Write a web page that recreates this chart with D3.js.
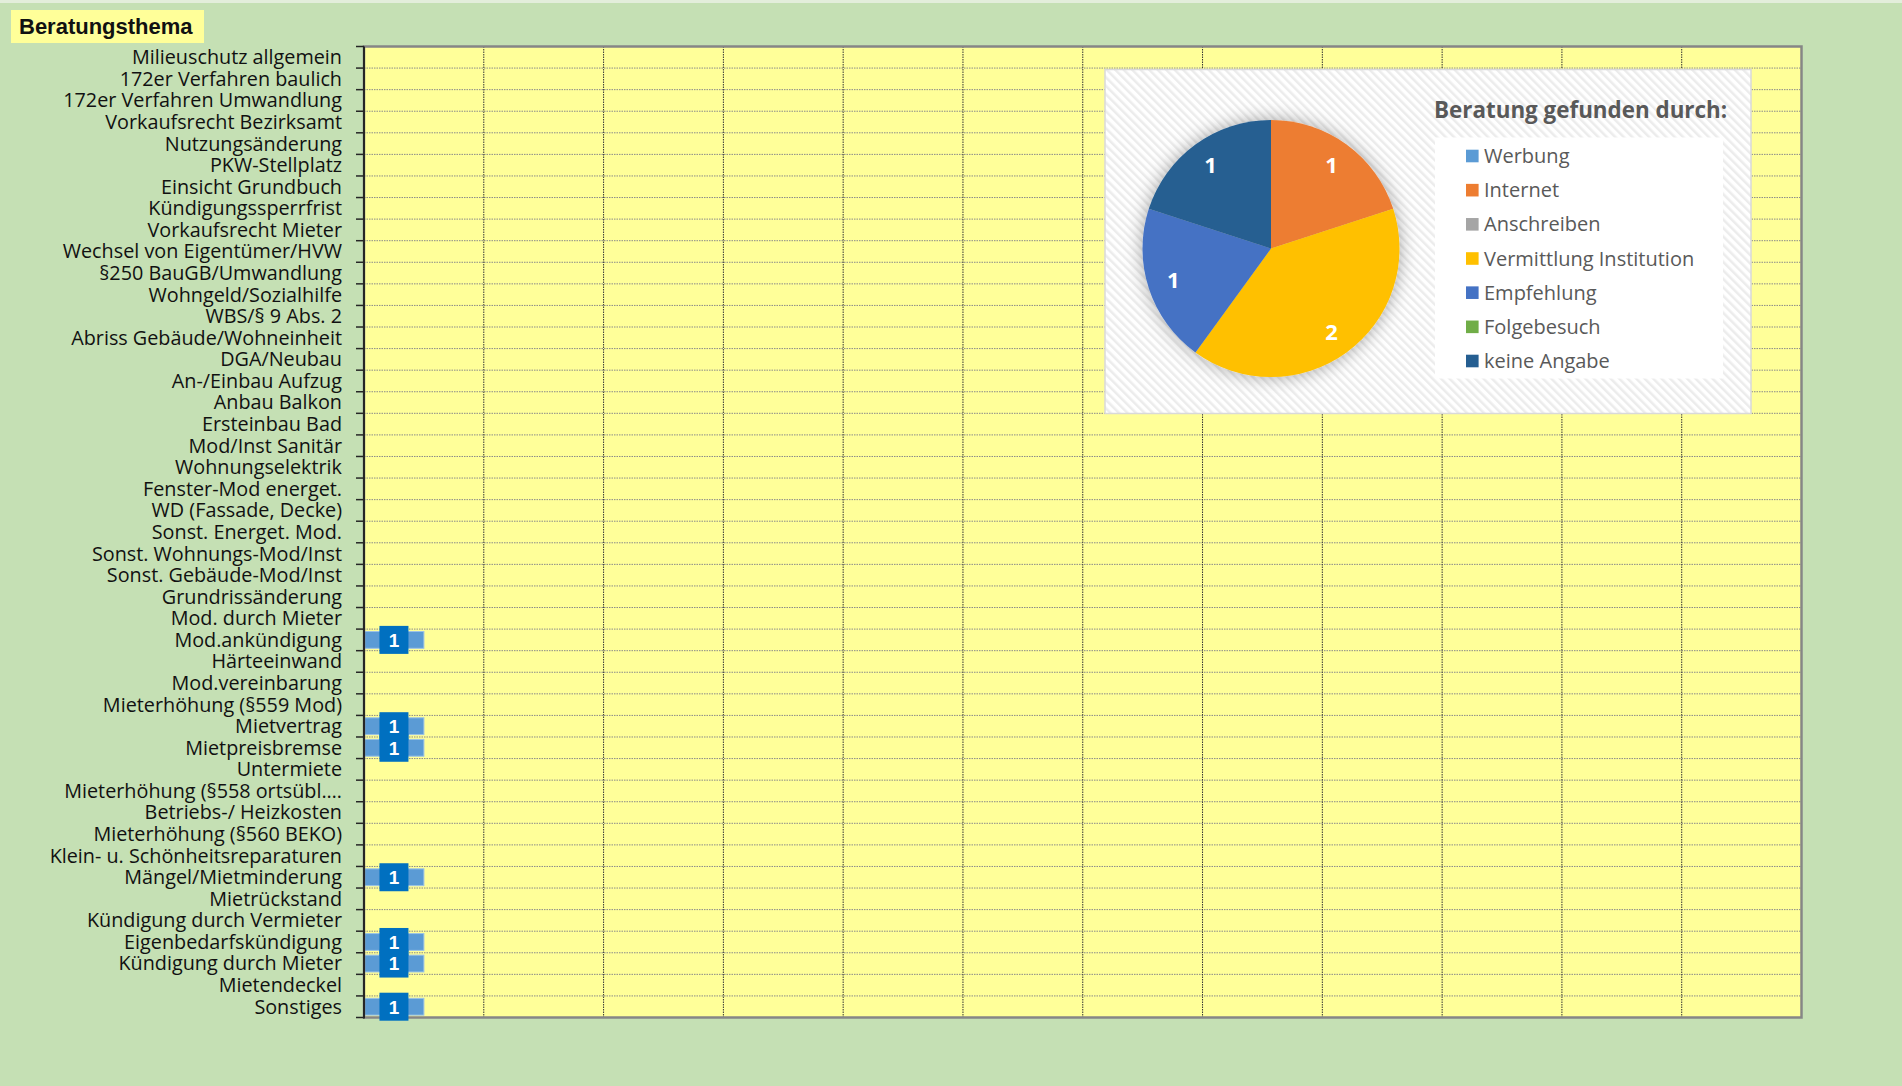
<!DOCTYPE html>
<html>
<head>
<meta charset="utf-8">
<script src="https://cdn.jsdelivr.net/npm/d3@7"></script>
<style>
  html, body { margin: 0; padding: 0; background: #C5E0B4; }
  svg { display: block; }
</style>
</head>
<body>
<div id="chart"></div>
<script>
// Beratungsthemen (bar chart) + "Beratung gefunden durch" (pie)

var categories = [
  "Milieuschutz allgemein", "172er Verfahren baulich", "172er Verfahren Umwandlung",
  "Vorkaufsrecht Bezirksamt", "Nutzungsänderung", "PKW-Stellplatz", "Einsicht Grundbuch",
  "Kündigungssperrfrist", "Vorkaufsrecht Mieter", "Wechsel von Eigentümer/HVW",
  "§250 BauGB/Umwandlung", "Wohngeld/Sozialhilfe", "WBS/§ 9 Abs. 2",
  "Abriss Gebäude/Wohneinheit", "DGA/Neubau", "An-/Einbau Aufzug", "Anbau Balkon",
  "Ersteinbau Bad", "Mod/Inst Sanitär", "Wohnungselektrik", "Fenster-Mod energet.",
  "WD (Fassade, Decke)", "Sonst. Energet. Mod.", "Sonst. Wohnungs-Mod/Inst",
  "Sonst. Gebäude-Mod/Inst", "Grundrissänderung", "Mod. durch Mieter", "Mod.ankündigung",
  "Härteeinwand", "Mod.vereinbarung", "Mieterhöhung (§559 Mod)", "Mietvertrag",
  "Mietpreisbremse", "Untermiete", "Mieterhöhung (§558 ortsübl.…", "Betriebs-/ Heizkosten",
  "Mieterhöhung (§560 BEKO)", "Klein- u. Schönheitsreparaturen", "Mängel/Mietminderung",
  "Mietrückstand", "Kündigung durch Vermieter", "Eigenbedarfskündigung",
  "Kündigung durch Mieter", "Mietendeckel", "Sonstiges"
];
var counts = [
  0, 0, 0, 0, 0, 0, 0, 0, 0, 0,
  0, 0, 0, 0, 0, 0, 0, 0, 0, 0,
  0, 0, 0, 0, 0, 0, 0, 1, 0, 0,
  0, 1, 1, 0, 0, 0, 0, 0, 1, 0,
  0, 1, 1, 0, 1
];
var xTickValues = [0, 2, 4, 6, 8, 10, 12, 14, 16, 18, 20, 22, 24];

var sources = ["Werbung", "Internet", "Anschreiben", "Vermittlung Institution",
               "Empfehlung", "Folgebesuch", "keine Angabe"];
var sourceCounts = [0, 1, 0, 2, 1, 0, 1];
var sourceColors = ["#5B9BD5", "#ED7D31", "#A5A5A5", "#FFC000", "#4472C4", "#70AD47", "#255E91"];

var W = 1902, H = 1086;
var svg = d3.select("#chart").append("svg")
    .attr("width", W)
    .attr("height", H);

var defs = svg.append("defs");
var pat = defs.append("pattern")
    .attr("id", "stripes")
    .attr("width", 6).attr("height", 6)
    .attr("patternUnits", "userSpaceOnUse")
    .attr("patternTransform", "rotate(-45)");
pat.append("rect").attr("width", 6).attr("height", 6).attr("fill", "#ffffff");
pat.append("rect").attr("width", 2.5).attr("height", 6).attr("fill", "#ececec");

var shadow = defs.append("filter").attr("id", "pieShadow")
    .attr("x", "-30%").attr("y", "-30%").attr("width", "160%").attr("height", "160%");
shadow.append("feDropShadow")
    .attr("dx", 0).attr("dy", 0).attr("stdDeviation", 9)
    .attr("flood-color", "#000").attr("flood-opacity", 0.35);

// top strip
svg.append("rect").attr("width", W).attr("height", 3).attr("fill", "#E3EEDB");

// title
svg.append("rect")
    .attr("x", 11).attr("y", 10).attr("width", 193).attr("height", 33)
    .attr("fill", "#FFFF99");
svg.append("text")
    .attr("x", 19).attr("y", 34)
    .attr("font-family", "Liberation Sans, Arial, sans-serif")
    .attr("font-weight", "bold").attr("font-size", 22)
    .attr("fill", "#111")
    .text("Beratungsthema");

// ---- bar chart ----
var plot = {left: 364, top: 46.5, right: 1801.5, bottom: 1017.5};

var x = d3.scaleLinear()
    .domain([0, 24])
    .range([plot.left, plot.right]);

var y = d3.scaleBand()
    .domain(categories)
    .range([plot.top, plot.bottom])
    .padding(0);

var g = svg.append("g");

g.append("rect")
    .attr("x", plot.left).attr("y", plot.top)
    .attr("width", plot.right - plot.left).attr("height", plot.bottom - plot.top)
    .attr("fill", "#FFFF99");

// horizontal grid at row boundaries
var boundaries = categories.map(function(c){ return y(c); }).concat([plot.bottom]);
g.selectAll(".hgrid")
    .data(boundaries.slice(1, -1))
    .enter().append("line")
    .attr("class", "hgrid")
    .attr("x1", plot.left).attr("x2", plot.right)
    .attr("y1", function(d){ return d; }).attr("y2", function(d){ return d; })
    .attr("stroke", "#8a8a8a").attr("stroke-width", 1)
    .attr("stroke-dasharray", "1.5,1");

// vertical grid
g.selectAll(".vgrid")
    .data(xTickValues.slice(1, -1))
    .enter().append("line")
    .attr("class", "vgrid")
    .attr("x1", function(d){ return x(d); }).attr("x2", function(d){ return x(d); })
    .attr("y1", plot.top).attr("y2", plot.bottom)
    .attr("stroke", "#333").attr("stroke-width", 1)
    .attr("stroke-dasharray", "1.5,1");

// bars
var barPad = y.bandwidth() * 0.11;
var rows = categories.map(function(c, i){ return {cat: c, value: counts[i]}; });
g.selectAll(".bar")
    .data(rows.filter(function(d){ return d.value > 0; }))
    .enter().append("rect")
    .attr("class", "bar")
    .attr("x", x(0))
    .attr("y", function(d){ return y(d.cat) + barPad; })
    .attr("width", function(d){ return x(d.value) - x(0); })
    .attr("height", y.bandwidth() - 2 * barPad)
    .attr("fill", "#5B9BD5")
    .attr("stroke", "#9DC3E6").attr("stroke-width", 1);

// plot border
g.append("rect")
    .attr("x", plot.left).attr("y", plot.top)
    .attr("width", plot.right - plot.left).attr("height", plot.bottom - plot.top)
    .attr("fill", "none")
    .attr("stroke", "#868686").attr("stroke-width", 2.5);

// left axis line + boundary ticks
g.append("line")
    .attr("x1", plot.left).attr("x2", plot.left)
    .attr("y1", plot.top).attr("y2", plot.bottom + 1)
    .attr("stroke", "#262626").attr("stroke-width", 2);
g.selectAll(".ytick")
    .data(boundaries)
    .enter().append("line")
    .attr("class", "ytick")
    .attr("x1", plot.left - 8).attr("x2", plot.left)
    .attr("y1", function(d){ return d; }).attr("y2", function(d){ return d; })
    .attr("stroke", "#262626").attr("stroke-width", 1.5);

// category labels
g.selectAll(".ylab")
    .data(categories)
    .enter().append("text")
    .attr("class", "ylab")
    .attr("x", plot.left - 22)
    .attr("y", function(d){ return y(d) + y.bandwidth() / 2; })
    .attr("dy", "0.35em")
    .attr("text-anchor", "end")
    .attr("font-family", "Open Sans, sans-serif")
    .attr("font-size", 19.8)
    .attr("fill", "#111")
    .text(function(d){ return d; });

// data labels
var lab = g.selectAll(".dlab")
    .data(rows.filter(function(d){ return d.value > 0; }))
    .enter().append("g")
    .attr("class", "dlab")
    .attr("transform", function(d){
        return "translate(" + ((x(0) + x(d.value)) / 2) + "," + (y(d.cat) + y.bandwidth() / 2) + ")";
    });
lab.append("rect")
    .attr("x", -14.5).attr("y", -14)
    .attr("width", 29).attr("height", 28)
    .attr("fill", "#0070C0");
lab.append("text")
    .attr("dy", "0.36em")
    .attr("text-anchor", "middle")
    .attr("font-family", "Liberation Sans, Arial, sans-serif")
    .attr("font-weight", "bold").attr("font-size", 19)
    .attr("fill", "#fff")
    .text(function(d){ return d.value; });

// ---- pie panel ----
var panel = {x: 1105, y: 69.5, w: 646, h: 344};

svg.append("rect")
    .attr("x", panel.x).attr("y", panel.y)
    .attr("width", panel.w).attr("height", panel.h)
    .attr("fill", "url(#stripes)")
    .attr("stroke", "#d9d9d9").attr("stroke-width", 1.5);

var pie = d3.pie().sort(null).value(function(d){ return d.value; });
var pieData = pie(sources.map(function(s, i){
    return {name: s, value: sourceCounts[i], color: sourceColors[i]};
}));
var rPie = 128.5;
var arc = d3.arc().innerRadius(0).outerRadius(rPie);
var labelArc = d3.arc().innerRadius(rPie * 0.8).outerRadius(rPie * 0.8);

var pieG = svg.append("g")
    .attr("transform", "translate(1271,248.5)");
pieG.append("g")
    .attr("filter", "url(#pieShadow)")
    .selectAll("path")
    .data(pieData.filter(function(d){ return d.value > 0; }))
    .enter().append("path")
    .attr("d", arc)
    .attr("fill", function(d){ return d.data.color; });

pieG.selectAll(".plab")
    .data(pieData.filter(function(d){ return d.value > 0; }))
    .enter().append("text")
    .attr("class", "plab")
    .attr("transform", function(d){
        var c = labelArc.centroid(d);
        return "translate(" + c[0] + "," + c[1] + ")";
    })
    .attr("dy", "0.36em")
    .attr("text-anchor", "middle")
    .attr("font-family", "Open Sans, sans-serif")
    .attr("font-weight", "bold").attr("font-size", 22)
    .attr("fill", "#fff")
    .text(function(d){ return d.value; });

// legend
svg.append("text")
    .attr("x", 1434).attr("y", 110)
    .attr("dy", "0.35em")
    .attr("font-family", "Open Sans, sans-serif")
    .attr("font-weight", "bold").attr("font-size", 22.4)
    .attr("fill", "#595959")
    .text("Beratung gefunden durch:");

svg.append("rect")
    .attr("x", 1435).attr("y", 137.5)
    .attr("width", 288).attr("height", 241)
    .attr("fill", "#fff");

var ly = d3.scalePoint().domain(sources).range([156, 361]);
var leg = svg.selectAll(".leg")
    .data(pieData)
    .enter().append("g")
    .attr("class", "leg")
    .attr("transform", function(d){ return "translate(1466," + ly(d.data.name) + ")"; });
leg.append("rect")
    .attr("x", 0).attr("y", -6.3)
    .attr("width", 12.6).attr("height", 12.6)
    .attr("fill", function(d){ return d.data.color; });
leg.append("text")
    .attr("x", 18)
    .attr("dy", "0.35em")
    .attr("font-family", "Open Sans, sans-serif")
    .attr("font-size", 20)
    .attr("fill", "#595959")
    .text(function(d){ return d.data.name; });
</script>
</body>
</html>
